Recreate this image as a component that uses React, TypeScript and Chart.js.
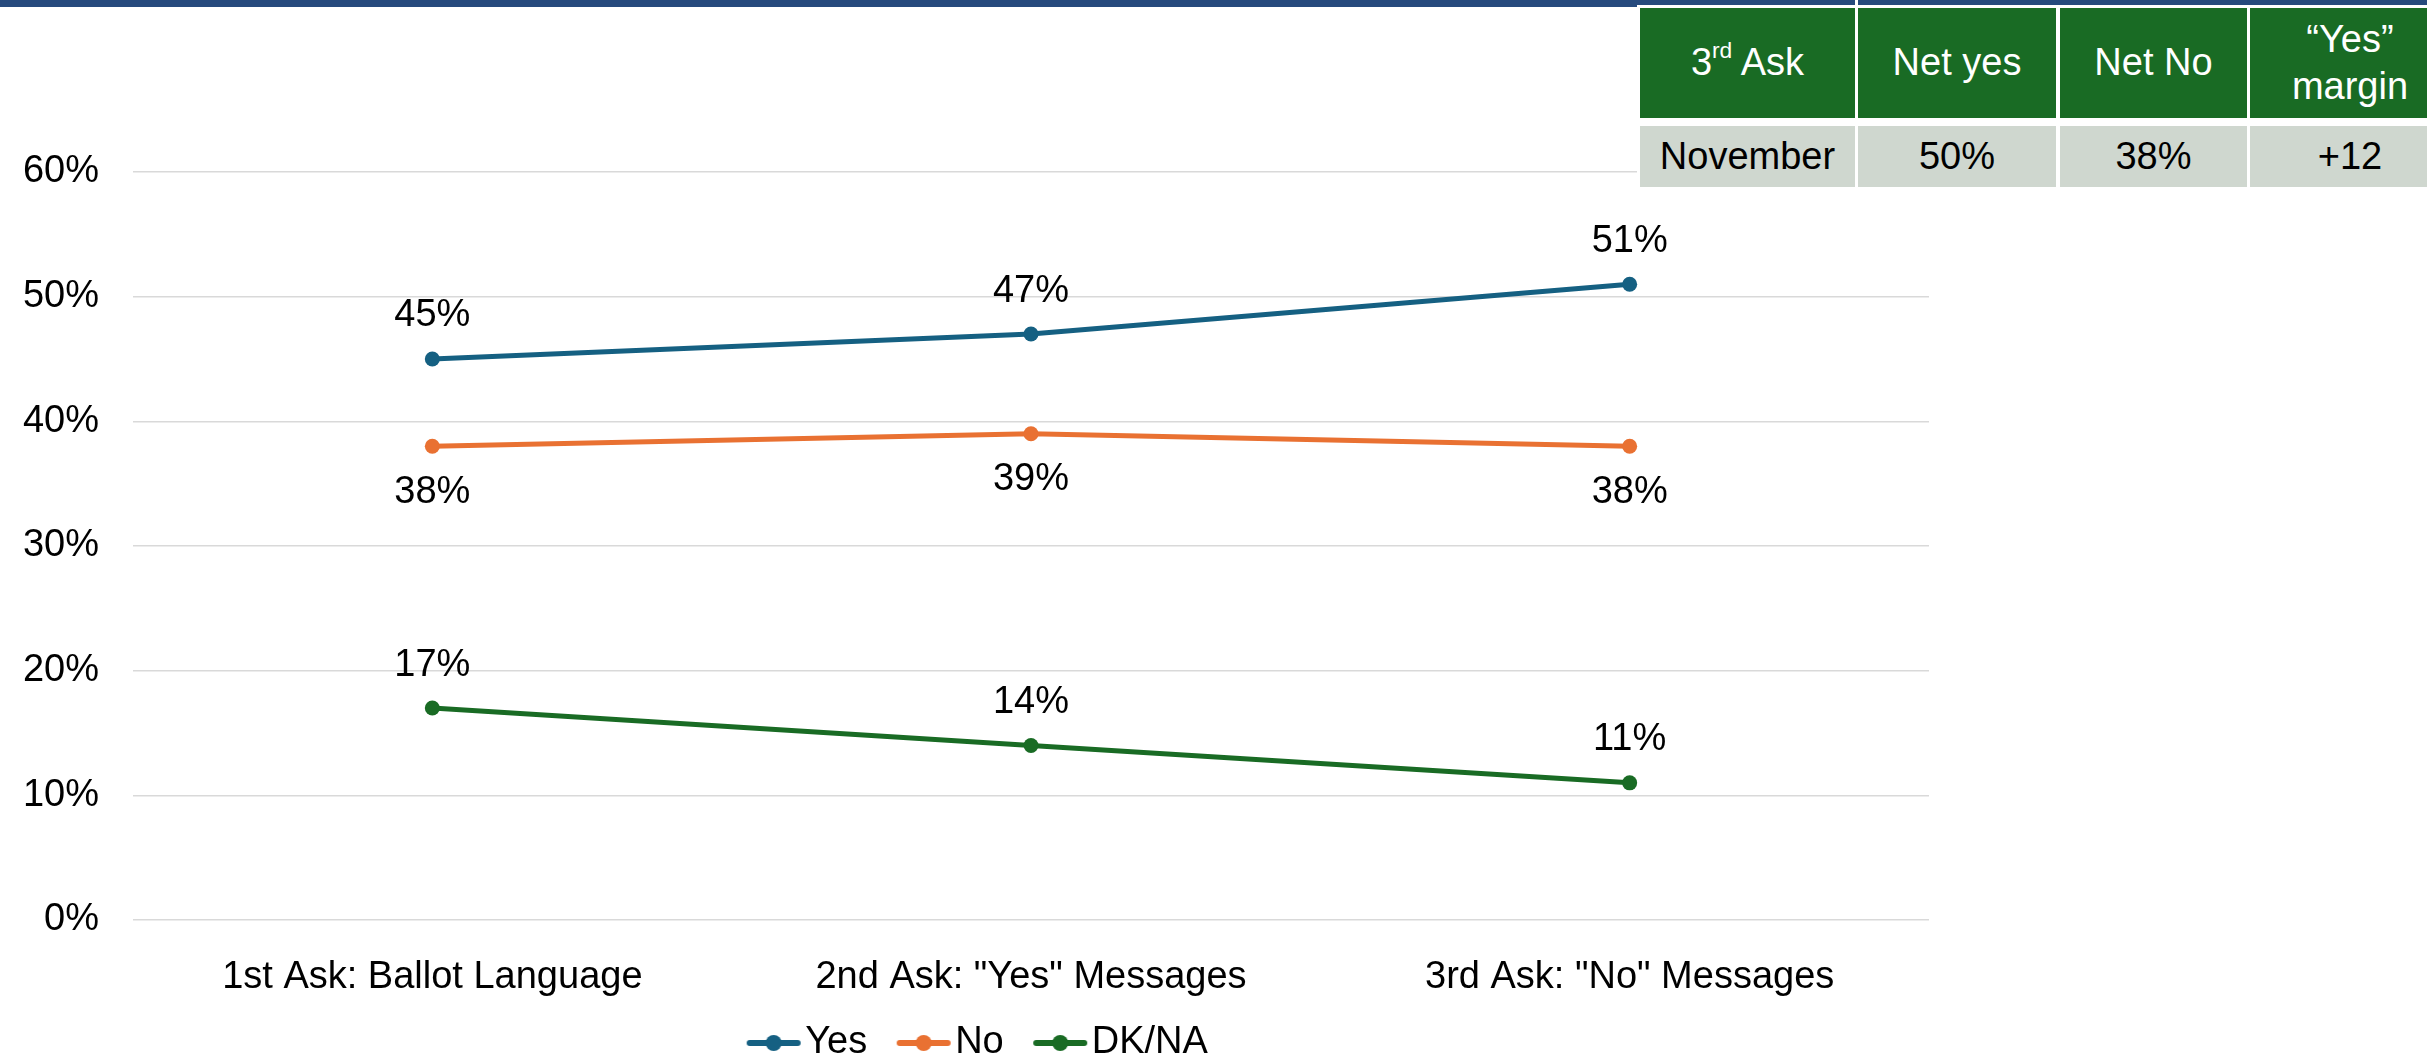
import React, { useEffect, useRef } from "react";
import { Chart, registerables } from "chart.js";

Chart.register(...registerables);

// ---------- data ----------
const categories = ['1st Ask: Ballot Language', '2nd Ask: "Yes" Messages', '3rd Ask: "No" Messages'];
const seriesNames = ["Yes", "No", "DK/NA"];
const yesValues = [45, 47, 51];
const noValues = [38, 39, 38];
const dkValues = [17, 14, 11];
const yTickValues = [0, 10, 20, 30, 40, 50, 60];

const tableHeaders = ["3rd Ask", "Net yes", "Net No", "\u201CYes\u201D\nmargin"];
const tableRow = ["November", "50%", "38%", "+12"];

// ---------- styles ----------
const FONT = '"Liberation Sans", Arial, sans-serif';
const COLORS = ["#156082", "#E97132", "#196B24"];
const LABEL_POS = ["above", "below", "above"];

function makeLegendSymbol(color: string) {
  const c = document.createElement("canvas");
  c.width = 92;
  c.height = 20;
  const ctx = c.getContext("2d")!;
  ctx.strokeStyle = color;
  ctx.lineWidth = 6;
  ctx.lineCap = "round";
  ctx.beginPath();
  ctx.moveTo(38, 10);
  ctx.lineTo(86, 10);
  ctx.stroke();
  ctx.fillStyle = color;
  ctx.beginPath();
  ctx.arc(62, 10, 8, 0, Math.PI * 2);
  ctx.fill();
  return c;
}

const pointLabelPlugin = {
  id: "pointLabels",
  afterDatasetsDraw(chart: any) {
    const ctx = chart.ctx;
    ctx.save();
    ctx.font = `38px ${FONT}`;
    ctx.fillStyle = "#000000";
    ctx.textAlign = "center";
    ctx.textBaseline = "middle";
    chart.data.datasets.forEach((ds: any, di: number) => {
      const meta = chart.getDatasetMeta(di);
      const off = ds.labelPosition === "below" ? 46 : -43;
      meta.data.forEach((pt: any, i: number) => {
        ctx.fillText(`${ds.data[i]}%`, pt.x, pt.y + off);
      });
    });
    ctx.restore();
  },
};

function ChartCanvas() {
  const ref = useRef<HTMLCanvasElement | null>(null);
  useEffect(() => {
    if (!ref.current) return;
    const values = [yesValues, noValues, dkValues];
    const symbols = COLORS.map((c) => makeLegendSymbol(c));
    const chart = new Chart(ref.current, {
      type: "line",
      data: {
        labels: categories,
        datasets: values.map((v, i) => ({
          label: seriesNames[i],
          data: v,
          borderColor: COLORS[i],
          backgroundColor: COLORS[i],
          borderWidth: 5,
          pointRadius: 7.5,
          pointBorderWidth: 0,
          pointBackgroundColor: COLORS[i],
          tension: 0,
          fill: false,
          labelPosition: LABEL_POS[i],
        })) as any,
      },
      options: {
        responsive: false,
        animation: false,
        devicePixelRatio: 1,
        layout: { padding: { top: 172, right: 31, bottom: 0, left: 8 } },
        plugins: {
          tooltip: { enabled: false },
          legend: {
            position: "bottom",
            labels: {
              usePointStyle: true,
              pointStyleWidth: 57,
              padding: 12,
              color: "#000000",
              font: { family: FONT, size: 38 },
              generateLabels: (ch: any) => {
                const items = (Chart.defaults.plugins.legend.labels as any).generateLabels(ch);
                return items.map((it: any, i: number) => ({ ...it, pointStyle: symbols[i] }));
              },
            },
          },
        },
        scales: {
          x: {
            offset: true,
            grid: { display: false, offset: true },
            border: { display: false },
            ticks: {
              color: "#000000",
              font: { family: FONT, size: 38 },
              padding: 27,
              maxRotation: 0,
              autoSkip: false,
            },
            afterFit: (s: any) => {
              s.height = 92;
            },
          },
          y: {
            min: 0,
            max: 60,
            border: { display: false },
            grid: { color: "#d9d9d9", lineWidth: 1.5, drawTicks: false },
            ticks: {
              color: "#000000",
              font: { family: FONT, size: 38 },
              padding: 34,
              callback: (v: any) => `${v}%`,
            },
            afterBuildTicks: (s: any) => {
              s.ticks = yTickValues.map((v) => ({ value: v }));
            },
            afterFit: (s: any) => {
              s.width = 125;
            },
          },
        },
      } as any,
      plugins: [pointLabelPlugin],
    });
    return () => chart.destroy();
  }, []);
  return (
    <canvas
      ref={ref}
      width={1960}
      height={1072}
      style={{ position: "absolute", left: 0, top: 0, width: 1960, height: 1072 }}
    />
  );
}

function renderHeader(text: string) {
  const m = text.match(/^(\d+)(st|nd|rd|th)(.*)$/);
  if (m) {
    return (
      <span>
        {m[1]}
        <sup style={{ fontSize: "60%", lineHeight: 0, verticalAlign: "0.75em" }}>{m[2]}</sup>
        {m[3]}
      </span>
    );
  }
  return <span style={{ whiteSpace: "pre-line" }}>{text}</span>;
}

const colX = [1640, 1858, 2060, 2250];
const colW = [215, 198, 187, 200];

function SummaryTable() {
  return (
    <>
      <div style={{ position: "absolute", left: 1637, top: 5, width: 800, height: 186, background: "#ffffff" }} />
      {tableHeaders.map((h, i) => (
        <div
          key={"h" + i}
          style={{
            position: "absolute",
            left: colX[i],
            top: 8,
            width: colW[i],
            height: 110,
            background: "#196B24",
            color: "#ffffff",
            fontFamily: FONT,
            fontSize: 38,
            lineHeight: 1.25,
            display: "flex",
            alignItems: "center",
            justifyContent: "center",
            textAlign: "center",
          }}
        >
          {renderHeader(h)}
        </div>
      ))}
      {tableRow.map((c, i) => (
        <div
          key={"r" + i}
          style={{
            position: "absolute",
            left: colX[i],
            top: 126,
            width: colW[i],
            height: 61,
            background: "#cfd7cf",
            color: "#000000",
            fontFamily: FONT,
            fontSize: 38,
            display: "flex",
            alignItems: "center",
            justifyContent: "center",
          }}
        >
          {c}
        </div>
      ))}
    </>
  );
}

export default function App() {
  return (
    <div
      style={{
        position: "fixed",
        left: 0,
        top: 0,
        width: 2427,
        height: 1061,
        overflow: "hidden",
        background: "#ffffff",
      }}
    >
      <ChartCanvas />
      <div style={{ position: "absolute", left: 0, top: 0, width: 2427, height: 7, background: "#264a7d" }} />
      <SummaryTable />
      <div style={{ position: "absolute", left: 1855, top: 0, width: 3, height: 8, background: "#ffffff" }} />
    </div>
  );
}
